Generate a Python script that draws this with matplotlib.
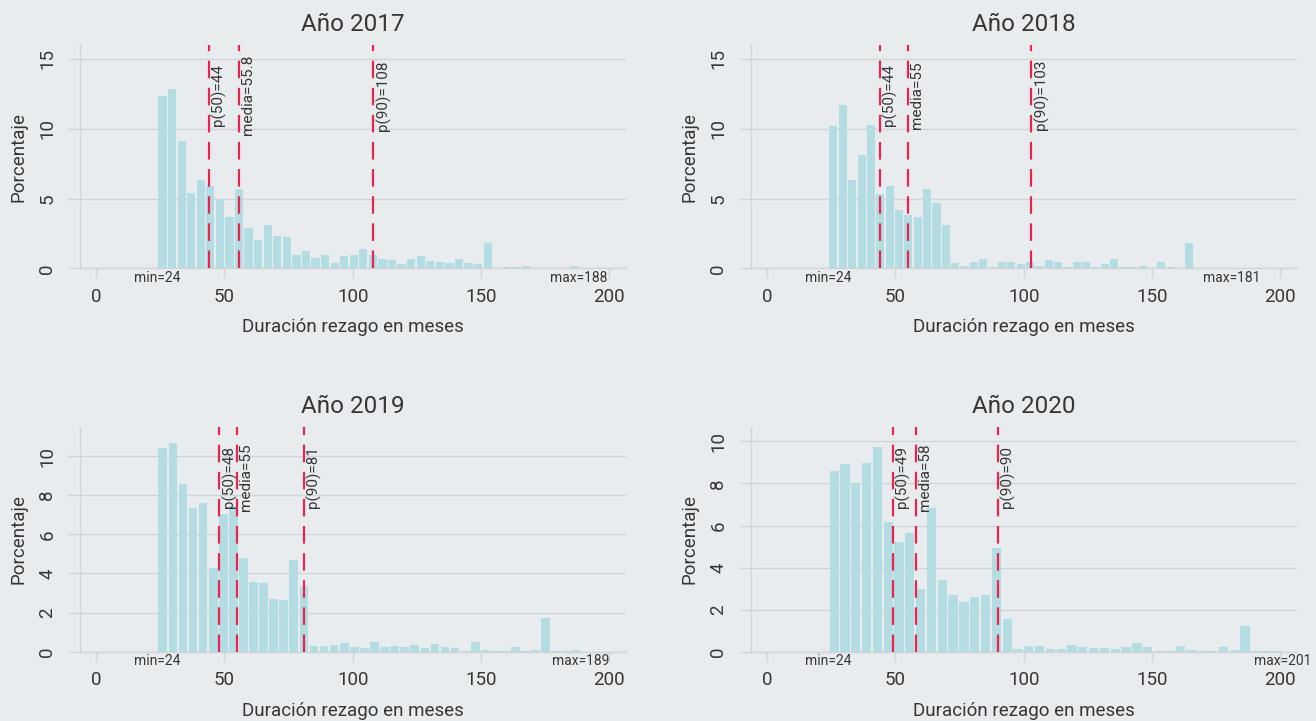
import numpy as np
import matplotlib.pyplot as plt
from matplotlib import transforms

plt.rcParams['font.family'] = ['Roboto', 'DejaVu Sans']

# Data
years = ['2017', '2018', '2019', '2020']
min_val = [24, 24, 24, 24]
max_val = [188, 181, 189, 201]
n_bins = [44, 43, 42, 42]

pct_2017 = [12.38, 12.86, 9.10, 5.38, 6.31, 5.93, 4.93, 3.67, 5.67, 2.88,
            2.02, 3.10, 2.31, 2.24, 0.95, 1.24, 0.74, 0.95, 0.38, 0.88,
            0.95, 1.38, 0.95, 0.67, 0.60, 0.31, 0.67, 0.88, 0.52, 0.45,
            0.38, 0.67, 0.38, 0.31, 1.81, 0.02, 0.10, 0.10, 0.17, 0.0,
            0.0, 0.0, 0.0, 0.17]
pct_2018 = [10.17, 11.67, 6.31, 8.10, 10.24, 5.31, 5.88, 4.17, 3.81, 3.67,
            5.67, 4.67, 3.14, 0.36, 0.21, 0.50, 0.71, 0.14, 0.50, 0.50,
            0.29, 0.43, 0.21, 0.64, 0.50, 0.14, 0.43, 0.43, 0.14, 0.29,
            0.71, 0.14, 0.14, 0.21, 0.02, 0.50, 0.14, 0.07, 1.86, 0.0,
            0.05, 0.05, 0.05]
pct_2019 = [10.43, 10.68, 8.58, 7.35, 7.61, 4.27, 7.03, 7.47, 4.79, 3.56,
            3.49, 2.68, 2.63, 4.68, 3.35, 0.29, 0.29, 0.34, 0.43, 0.24,
            0.19, 0.48, 0.24, 0.29, 0.24, 0.34, 0.19, 0.38, 0.24, 0.19,
            0.02, 0.48, 0.07, 0.02, 0.02, 0.24, 0.02, 0.07, 1.71, 0.02,
            0.02, 0.07]
pct_2020 = [8.59, 8.94, 8.00, 8.98, 9.73, 6.16, 5.21, 5.63, 2.97, 6.83,
            3.40, 2.68, 2.35, 2.59, 2.68, 4.92, 1.55, 0.11, 0.25, 0.29,
            0.11, 0.11, 0.34, 0.20, 0.16, 0.16, 0.11, 0.20, 0.39, 0.20,
            0.02, 0.02, 0.29, 0.06, 0.02, 0.02, 0.20, 0.06, 1.22, 0.02,
            0.02, 0.02]
percentages = [pct_2017, pct_2018, pct_2019, pct_2020]

p50 = [44, 44, 48, 49]
media = [55.8, 55, 55, 58]
p90 = [108, 103, 81, 90]

y_ticks = [[0, 5, 10, 15], [0, 5, 10, 15], [0, 2, 4, 6, 8, 10], [0, 2, 4, 6, 8, 10]]
y_top = [16.0, 16.0, 11.5, 10.7]
x_ticks = [0, 50, 100, 150, 200]

bg = '#e9ecef'
bar_color = '#b3dce3'
red = '#e8254e'
grid_color = '#d2d5d8'
text_color = '#363636'

fig = plt.figure(figsize=(13.16, 7.21), dpi=100, facecolor=bg)

positions = [
    [80 / 1316, (721 - 268.5) / 721, 546 / 1316, 223.5 / 721],
    [751 / 1316, (721 - 268.5) / 721, 546 / 1316, 223.5 / 721],
    [80 / 1316, (721 - 651.7) / 721, 546 / 1316, 225 / 721],
    [751 / 1316, (721 - 651.7) / 721, 546 / 1316, 225 / 721],
]

for i in range(4):
    ax = fig.add_axes(positions[i])
    ax.set_facecolor(bg)

    # histogram bars
    edges = np.linspace(min_val[i], max_val[i], n_bins[i] + 1)
    w = edges[1] - edges[0]
    centers = edges[:-1] + w / 2
    ax.bar(centers, percentages[i], width=0.86 * w, color=bar_color,
           linewidth=0, zorder=2)

    ax.set_xlim(-6.3, 206.5)
    ax.set_ylim(0, y_top[i])
    ax.set_xticks(x_ticks)
    ax.set_yticks(y_ticks[i])
    ax.grid(axis='y', color=grid_color, linewidth=1, zorder=0)
    ax.set_axisbelow(True)

    for s in ['top', 'right']:
        ax.spines[s].set_visible(False)
    for s in ['left', 'bottom']:
        ax.spines[s].set_color(grid_color)
        ax.spines[s].set_linewidth(1)

    ax.tick_params(axis='x', length=7, width=1, color=grid_color, pad=7,
                   labelsize=13.5, labelcolor=text_color)
    ax.tick_params(axis='y', length=9, width=1, color=grid_color, pad=8,
                   labelsize=13.5, labelcolor=text_color)
    for lab in ax.get_yticklabels():
        lab.set_rotation(90)
        lab.set_va('center')

    if i == 2:
        for t in ax.xaxis.get_major_ticks()[1:]:
            t.tick1line.set_color('#222222')

    ax.set_title(f'Año {years[i]}', fontsize=17.5, color=text_color, pad=10)
    ax.set_xlabel('Duración rezago en meses', fontsize=13.5, color=text_color,
                  labelpad=9)
    ax.set_ylabel('Porcentaje', fontsize=13.5, color=text_color, labelpad=8)

    # reference lines with labels
    trans = transforms.blended_transform_factory(ax.transData, ax.transAxes)
    trans_off = transforms.offset_copy(trans, fig=fig, x=1.5, units='points')
    lines = [(p50[i], f'p(50)={p50[i]:g}'),
             (media[i], f'media={media[i]:g}'),
             (p90[i], f'p(90)={p90[i]:g}')]
    for v, lab in lines:
        ax.plot([v, v], [0, y_top[i]], color=red, linewidth=1.6,
                dashes=(7.9, 4.3), zorder=3, clip_on=False)
        ax.text(v, 0.775, lab, transform=trans_off, rotation=90, ha='left',
                va='center', fontsize=11, color=text_color, zorder=4)

    # min / max labels under the axis
    ax.annotate(f'min={min_val[i]}', xy=(min_val[i], 0),
                xycoords=('data', 'axes fraction'), xytext=(0, -7),
                textcoords='offset points', ha='center', va='center',
                fontsize=10, color=text_color)
    ax.annotate(f'max={max_val[i]}', xy=(max_val[i], 0),
                xycoords=('data', 'axes fraction'), xytext=(0, -7),
                textcoords='offset points', ha='center', va='center',
                fontsize=10, color=text_color, annotation_clip=False)

fig.savefig('out.png', dpi=100, facecolor=bg)
